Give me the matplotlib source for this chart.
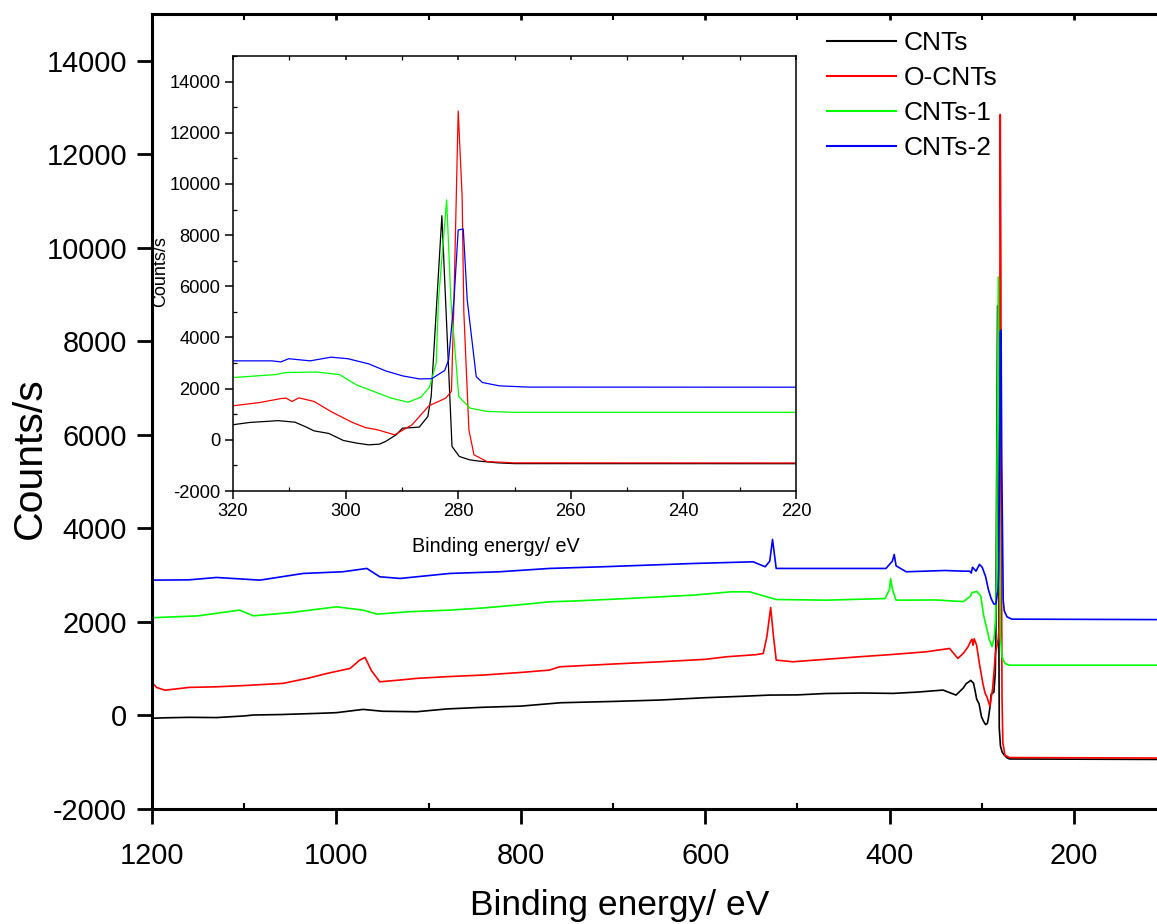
import matplotlib
matplotlib.use("Agg")
import matplotlib.pyplot as plt
from matplotlib.ticker import MultipleLocator

plt.rcParams['font.family'] = ['Liberation Sans', 'DejaVu Sans']
plt.rcParams['axes.unicode_minus'] = False

# XPS survey spectra
cnts_ev = [1200, 1186, 1160, 1130, 1100, 1090, 1060, 1020, 1000, 971, 950, 913, 880,
           841, 800, 757, 700, 649, 600, 560, 530, 500, 469, 430, 396, 370, 342, 328,
           320, 317, 314, 312, 309, 307, 305.6, 303, 300.4, 298, 295.9, 294, 292.9,
           291, 289.9, 288, 286.9, 285.4, 284.8, 282.9, 281.1, 279.8, 278, 276.4,
           273, 270, 110]
cnts = [-60, -50, -40, -45, -10, 10, 20, 45, 60, 130, 90, 80, 140,
        175, 200, 272, 300, 330, 380, 410, 436, 440, 470, 480, 472, 500, 543, 436,
        590, 680, 720, 750, 690, 500, 350, 250, -25, -130, -195, -170, -65,
        200, 455, 480, 500, 910, 1690, 8760, -260, -650, -780, -830,
        -900, -930, -940]

ocnts_ev = [1200, 1195, 1186, 1160, 1130, 1100, 1058, 1030, 1010, 985, 975, 969, 962,
            953, 930, 913, 880, 841, 800, 769, 758, 700, 649, 600, 577, 545, 537, 533,
            529, 526, 523, 505, 470, 433, 400, 360, 335, 326, 320, 315.2, 311.5, 310.6,
            309.5, 308.3, 305.6, 302.6, 298.8, 296.5, 294.3, 291.3, 288.2, 285.2, 282.2,
            281.2, 280.8, 280.0, 279.3, 279.0, 278.1, 277.2, 274.9, 270, 110]
ocnts = [700, 600, 540, 600, 613, 640, 686, 800, 900, 1007, 1180, 1242, 958,
         720, 760, 793, 830, 864, 920, 970, 1041, 1100, 1148, 1200, 1255, 1300, 1326, 1700,
         2310, 1700, 1184, 1148, 1200, 1255, 1300, 1362, 1433, 1220, 1330, 1460, 1612, 1630,
         1500, 1640, 1500, 1105, 680, 480, 390, 195, 586, 1330, 1630,
         1900, 5000, 12850, 9500, 5000, 390, -585, -850, -900, -910]

cnts1_ev = [1200, 1150, 1105, 1090, 1050, 1000, 971, 956, 920, 877, 840, 805, 769,
            740, 685, 613, 572, 552, 523, 469, 405, 400, 399, 397, 393, 350, 320,
            312.4, 310.6, 305.1, 301.1, 298.1, 295, 291.9, 288.9, 286.6, 285.1, 283.9,
            283.5, 282.05, 281.3, 279.9, 277.9, 274.9, 270, 110]
cnts1 = [2090, 2130, 2253, 2131, 2200, 2323, 2253, 2167, 2220, 2253, 2300, 2360, 2430,
         2450, 2500, 2573, 2644, 2644, 2480, 2466, 2500, 2700, 2930, 2700, 2466, 2470, 2434,
         2550, 2630, 2650, 2550, 2150, 1890, 1630, 1470, 1670, 2060, 3000,
         5470, 9375, 5470, 1690, 1240, 1110, 1075, 1075]

cnts2_ev = [1200, 1160, 1130, 1083, 1036, 993, 967, 953, 931, 877, 823, 769, 711,
            613, 548, 535, 530, 527, 524, 523, 469, 404, 397, 395, 393, 382, 340, 320,
            313.1, 311.5, 310.1, 306.3, 302.6, 299.6, 295.9, 292.9, 289.9, 286.9, 284.7,
            282.4, 281.7, 280.75, 280.0, 279.1, 278.4, 276.8, 275.7, 272.7, 267.5, 110]
cnts2 = [2894, 2900, 2951, 2894, 3037, 3073, 3144, 2966, 2930, 3037, 3073, 3144, 3180,
         3250, 3286, 3180, 3300, 3764, 3300, 3144, 3144, 3144, 3300, 3443, 3200, 3073, 3100, 3086,
         3086, 3045, 3170, 3086, 3230, 3170, 2970, 2695, 2500, 2380, 2390,
         2710, 3125, 5470, 8200, 8240, 5470, 2470, 2240, 2110, 2060, 2050]

labels = ['CNTs', 'O-CNTs', 'CNTs-1', 'CNTs-2']
colors = ['black', '#ff0000', '#00ff00', '#0000ff']
series = [(cnts_ev, cnts), (ocnts_ev, ocnts), (cnts1_ev, cnts1), (cnts2_ev, cnts2)]

fig = plt.figure(figsize=(11.57, 9.24), dpi=100)

# main survey plot
ax = fig.add_axes([152/1157, 115/924, 1005/1157, 795/924])
for (x, y), c, lab in zip(series, colors, labels):
    ax.plot(x, y, color=c, lw=1.2, label=lab)
ax.set_xlim(1200, 110)
ax.set_ylim(-2000, 15000)
ax.xaxis.set_major_locator(MultipleLocator(200))
ax.xaxis.set_minor_locator(MultipleLocator(100))
ax.yaxis.set_major_locator(MultipleLocator(2000))
for s in ['left', 'bottom', 'top']:
    ax.spines[s].set_linewidth(2.2)
ax.spines['right'].set_visible(False)
ax.tick_params(axis='both', which='major', direction='out', length=11, width=2,
               labelsize=20.8, pad=7)
ax.tick_params(axis='x', which='major', pad=13, top=True)
ax.tick_params(axis='x', which='minor', direction='in', length=4, width=1.5,
               top=True)
for t in ax.xaxis.get_major_ticks():
    t.tick2line.set_markersize(4)
    t.tick2line.set_marker(3)
fig.text(620/1157, 1 - 905/924, 'Binding energy/ eV', fontsize=25.5,
         ha='center', va='center')
fig.text(30/1157, 1 - 458/924, 'Counts/s', fontsize=29.5, rotation=90,
         ha='center', va='center')

leg = ax.legend(loc='upper left', bbox_to_anchor=(827/1157, 1 - 31/924),
                bbox_transform=fig.transFigure, frameon=False, fontsize=19,
                handlelength=2.6, handletextpad=0.3, labelspacing=0.42,
                borderpad=0, borderaxespad=0)
for line in leg.get_lines():
    line.set_linewidth(1.5)

# zoomed inset of the C1s region
ins = fig.add_axes([233/1157, 433/924, 563/1157, 435/924])
ins.set_facecolor('white')
for (x, y), c in zip(series, colors):
    ins.plot(x, y, color=c, lw=0.9)
ins.set_xlim(320, 220)
ins.set_ylim(-2000, 15000)
ins.xaxis.set_major_locator(MultipleLocator(20))
ins.xaxis.set_minor_locator(MultipleLocator(10))
ins.yaxis.set_major_locator(MultipleLocator(2000))
ins.yaxis.set_minor_locator(MultipleLocator(1000))
for s in ins.spines.values():
    s.set_linewidth(1.1)
ins.tick_params(axis='both', which='major', direction='out', length=6, width=1.1,
                labelsize=13.2, pad=3)
ins.tick_params(axis='both', which='minor', direction='in', length=3, width=0.9)
ins.tick_params(axis='x', which='both', top=True)
for t in ins.xaxis.get_major_ticks():
    t.tick2line.set_marker(3)
    t.tick2line.set_markersize(3)
for t in ins.xaxis.get_minor_ticks():
    t.tick2line.set_markersize(3)
fig.text(496/1157, 1 - 546/924, 'Binding energy/ eV', fontsize=14.2,
         ha='center', va='center')
fig.text(161/1157, 1 - 272/924, 'Counts/s', fontsize=13, rotation=90,
         ha='center', va='center')

fig.savefig('out.png', dpi=100)
